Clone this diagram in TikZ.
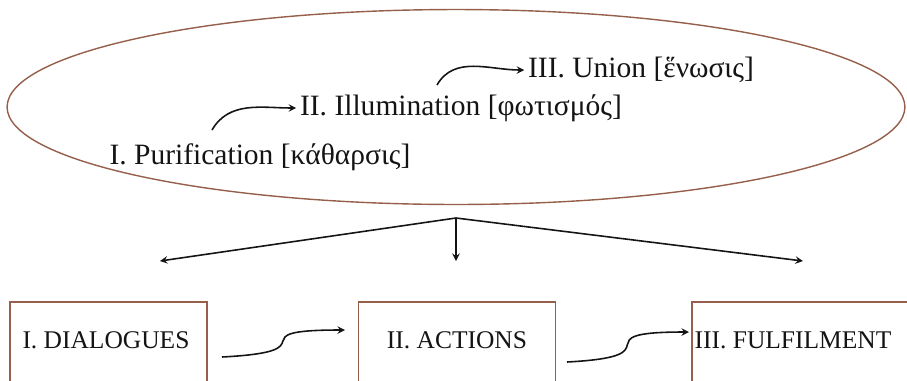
\documentclass[tikz,border=0pt]{standalone}
\usepackage{fontspec}
\setmainfont{Liberation Serif}
\usetikzlibrary{shapes,arrows}
\definecolor{rim}{RGB}{150,95,75}
\definecolor{ink}{RGB}{20,20,20}

\begin{document}
\begin{tikzpicture}[x=0.02cm, y=-0.02cm, >=stealth, text=ink, every node/.style={font=\fontsize{14.5}{17}\selectfont}, stage/.style={inner sep=2pt, font=\fontsize{16.8}{20}\selectfont}, box/.style={draw=rim, line width=0.8pt, rectangle, minimum width=3.94cm, minimum height=3cm}, link/.style={->, draw=ink, line width=0.9pt}]
\useasboundingbox (0,0) rectangle (907,380);
\clip (0,0) rectangle (907,380);
\node[ellipse, draw=rim, line width=0.8pt, minimum width=17.96cm, minimum height=3.9cm] (way) at (456,107) {};
\node[stage] (union) at (641,70) {III. Union [ἕνωσις]};
\node[stage] (illu) at (461,108) {II. Illumination [φωτισμός]};
\node[stage] (puri) at (260,157) {I. Purification [κάθαρσις]};
\node[box] (dialbox) at (108.5,377) {};
\node[box] (actbox) at (457,377) {};
\node[box, minimum width=4.8cm] (fulbox) at (812,377) {};
\node (dial) at (106,340) {I. DIALOGUES};
\node (act) at (457,340) {II. ACTIONS};
\node (ful) at (793,340) {III. FULFILMENT};
\coordinate (fork) at (456,218);
\coordinate (d1) at (160,261);
\coordinate (d2) at (456,261);
\coordinate (d3) at (803,261);
\coordinate (s1) at (222,357);
\coordinate (e1) at (345,330);
\coordinate (s2) at (567,362);
\coordinate (e2) at (689,332);
\coordinate (p1) at (212,130);
\coordinate (p2) at (437,85);
\draw[link] (p1) to[out=60, in=180] (illu.west);
\draw[link] (p2) to[out=60, in=180] (union.west);
\draw[link] (fork) -- (d1);
\draw[link] (fork) -- (d2);
\draw[link] (fork) -- (d3);
\draw[link] (s1) to[out=3, in=180, looseness=2.3] (e1);
\draw[link] (s2) to[out=3, in=180, looseness=2.3] (e2);
\end{tikzpicture}
\end{document}
